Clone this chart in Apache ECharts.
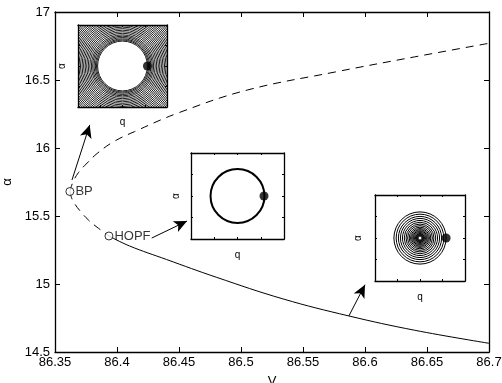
<!DOCTYPE html>
<html>
<head>
<meta charset="utf-8">
<script src="https://cdn.jsdelivr.net/npm/echarts@6/dist/echarts.min.js"></script>
<style>html,body{margin:0;padding:0;background:#fff}#c{width:502px;height:383px}</style>
</head>
<body>
<div id="c"></div>
<script>
// ---- data ----
const upperV = [86.362, 86.3645, 86.369, 86.376, 86.384, 86.397, 86.414, 86.45, 86.505, 86.576, 86.64, 86.7];
const upperA = [15.68, 15.75, 15.82, 15.89, 15.96, 16.045, 16.12, 16.26, 16.426, 16.559, 16.67, 16.77];
const lowerUnstV = [86.362, 86.3635, 86.366, 86.370, 86.377, 86.385, 86.3935];
const lowerUnstA = [15.68, 15.63, 15.588, 15.54, 15.47, 15.41, 15.353];
const lowerStV = [86.3935, 86.41, 86.44, 86.48, 86.534, 86.587, 86.64, 86.7];
const lowerStA = [15.353, 15.28, 15.18, 15.05, 14.89, 14.765, 14.66, 14.564];
const bpPoint = [86.362, 15.68];
const hopfPoint = [86.3935, 15.353];
const pointNames = ['BP', 'HOPF'];
// arrows: [tailV, tailAlpha, headV, headAlpha]
const arrows = [
  [86.3637, 15.765, 86.378, 16.17],
  [86.428, 15.338, 86.4565, 15.463],
  [86.587, 14.765, 86.600, 14.995]
];
const xTicks = ['86.35','86.4','86.45','86.5','86.55','86.6','86.65','86.7'];
const yTicks = ['14.5','15','15.5','16','16.5','17'];
// inset phase portraits (radii in inset units, dot position)
const inset1Radii = [0.56, 0.585, 0.61, 0.64, 0.67, 0.70, 0.735, 0.77, 0.805, 0.84, 0.875, 0.91, 0.945, 0.98, 1.015, 1.05, 1.085, 1.12, 1.155, 1.19, 1.225, 1.26, 1.295, 1.33, 1.365, 1.40, 1.435];
const inset2Radii = [0.58];
const inset3Radii = [0.58, 0.53, 0.48, 0.435, 0.39, 0.35, 0.31, 0.275, 0.24, 0.21, 0.185, 0.16, 0.14, 0.12, 0.10, 0.085, 0.07, 0.055, 0.04];
const insetDots = [[0.56, 0], [0.57, 0], [0.58, 0]];

const FONT = 'Liberation Sans, Arial, Helvetica, sans-serif';
const toPairs = (xs, ys) => xs.map((x, i) => [x, ys[i]]);

const grids = [
  {left: 55, right: 13, top: 12, bottom: 31, outerBoundsMode: 'none', containLabel: false},
  {left: 78, top: 25, width: 89, height: 82, outerBoundsMode: 'none', containLabel: false},
  {left: 191, top: 153, width: 93, height: 86, outerBoundsMode: 'none', containLabel: false},
  {left: 375, top: 195, width: 90, height: 86, outerBoundsMode: 'none', containLabel: false}
];
const insetGaps = [[11, 10], [10, 11], [12, 11]]; // [alphaGap, qGap]

const xAxes = [], yAxes = [];
const axisLineStyle = {onZero: false, lineStyle: {color: '#000', width: 1.3}};
// main axes
xAxes.push({type: 'value', gridIndex: 0, min: 86.35, max: 86.7, interval: 0.05, position: 'bottom',
  axisLine: axisLineStyle, axisTick: {inside: true, length: 5, lineStyle: {color: '#000'}},
  splitLine: {show: false},
  axisLabel: {color: '#000', fontSize: 13, fontFamily: FONT, margin: 4, showMinLabel: true, showMaxLabel: true, hideOverlap: false,
    formatter: v => { const s = parseFloat(v.toFixed(2)).toString(); return xTicks.indexOf(s) >= 0 ? s : ''; }},
  name: 'V', nameLocation: 'middle', nameGap: 23, nameTextStyle: {color: '#000', fontSize: 13, fontFamily: FONT}});
xAxes.push({type: 'value', gridIndex: 0, min: 86.35, max: 86.7, interval: 0.05, position: 'top',
  axisLine: axisLineStyle, axisTick: {inside: true, length: 5, lineStyle: {color: '#000'}},
  splitLine: {show: false}, axisLabel: {show: false}});
yAxes.push({type: 'value', gridIndex: 0, min: 14.5, max: 17, interval: 0.5, position: 'left',
  axisLine: axisLineStyle, axisTick: {inside: true, length: 5, lineStyle: {color: '#000'}},
  splitLine: {show: false},
  axisLabel: {color: '#000', fontSize: 13, fontFamily: FONT, margin: 5, showMinLabel: true, showMaxLabel: true, hideOverlap: false,
    formatter: v => { const s = parseFloat(v.toFixed(2)).toString(); return yTicks.indexOf(s) >= 0 ? s : ''; }},
  name: 'α', nameLocation: 'middle', nameGap: 30, nameRotate: 90,
  nameTextStyle: {color: '#000', fontSize: 13, fontFamily: FONT}});
yAxes.push({type: 'value', gridIndex: 0, min: 14.5, max: 17, interval: 0.5, position: 'right',
  axisLine: axisLineStyle, axisTick: {inside: true, length: 5, lineStyle: {color: '#000'}},
  splitLine: {show: false}, axisLabel: {show: false}});

// inset axes
for (let g = 1; g <= 3; g++) {
  const tick = {inside: true, length: 2, lineStyle: {color: '#000'}};
  const base = {type: 'value', gridIndex: g, min: -1, max: 1, interval: 0.5, splitLine: {show: false},
    axisLine: {onZero: false, lineStyle: {color: '#000', width: 1.3}}, axisTick: tick, axisLabel: {show: false}};
  xAxes.push(Object.assign({}, base, {position: 'bottom', name: 'q', nameLocation: 'middle', nameGap: insetGaps[g-1][1],
    nameTextStyle: {color: '#000', fontSize: 10, fontFamily: FONT}}));
  xAxes.push(Object.assign({}, base, {position: 'top'}));
  yAxes.push(Object.assign({}, base, {position: 'left', name: 'α', nameLocation: 'middle', nameRotate: 90,
    nameGap: insetGaps[g-1][0], nameTextStyle: {color: '#000', fontSize: 10, fontFamily: FONT}}));
  yAxes.push(Object.assign({}, base, {position: 'right'}));
}
grids.forEach((g, i) => { if (i > 0) { g.show = true; g.backgroundColor = '#fff'; g.borderWidth = 0; } });

const series = [
  {type: 'line', xAxisIndex: 0, yAxisIndex: 0, data: toPairs(upperV, upperA), smooth: 0.4, showSymbol: false,
    lineStyle: {color: '#000', width: 1, type: [8, 6]}, silent: true, z: 2},
  {type: 'line', xAxisIndex: 0, yAxisIndex: 0, data: toPairs(lowerUnstV, lowerUnstA), smooth: 0.4, showSymbol: false,
    lineStyle: {color: '#000', width: 1, type: [8, 6]}, silent: true, z: 2},
  {type: 'line', xAxisIndex: 0, yAxisIndex: 0, data: toPairs(lowerStV, lowerStA), smooth: 0.4, showSymbol: false,
    lineStyle: {color: '#000', width: 1}, silent: true, z: 2,
    markLine: {silent: true, symbol: ['none', 'arrow'], symbolSize: [9, 13], animation: false,
      label: {show: false}, lineStyle: {color: '#000', width: 1, type: 'solid'},
      emphasis: {disabled: true},
      data: arrows.map(a => [{coord: [a[0], a[1]]}, {coord: [a[2], a[3]]}])}},
  {type: 'scatter', xAxisIndex: 0, yAxisIndex: 0, symbol: 'circle', symbolSize: 8,
    data: [bpPoint, hopfPoint].map((p, i) => ({value: p, name: pointNames[i]})),
    itemStyle: {color: '#fff', borderColor: '#000', borderWidth: 1},
    label: {show: true, position: 'right', distance: 1, formatter: p => p.name, color: '#000', fontSize: 13, fontFamily: FONT},
    silent: true, z: 5}
];

const insetRadii = [inset1Radii, inset2Radii, inset3Radii];
const insetWidths = [0.9, 2, 1];
for (let g = 1; g <= 3; g++) {
  const xi = 2 + (g - 1) * 2, yi = 2 + (g - 1) * 2;
  const lw = insetWidths[g - 1];
  series.push({type: 'custom', xAxisIndex: xi, yAxisIndex: yi, clip: true, silent: true,
    data: insetRadii[g - 1].map(r => [0, 0, r]),
    renderItem: (params, api) => {
      const c = api.coord([api.value(0), api.value(1)]);
      const s = api.size([api.value(2), api.value(2)]);
      return {type: 'circle', shape: {cx: c[0], cy: c[1], r: s[0]},
        style: {fill: 'none', stroke: '#000', lineWidth: lw}};
    }, z: 3});
  series.push({type: 'scatter', xAxisIndex: xi, yAxisIndex: yi, symbolSize: 9, data: [insetDots[g - 1]],
    itemStyle: {color: '#000'}, silent: true, z: 6});
  if (g === 3) {
    series.push({type: 'scatter', xAxisIndex: xi, yAxisIndex: yi, symbolSize: 3, data: [[0, 0]],
      itemStyle: {color: '#fff'}, silent: true, z: 7});
  }
}

const chart = echarts.init(document.getElementById('c'), null, {renderer: 'canvas'});
chart.setOption({animation: false, backgroundColor: '#fff', grid: grids, xAxis: xAxes, yAxis: yAxes, series: series});
</script>
</body>
</html>
